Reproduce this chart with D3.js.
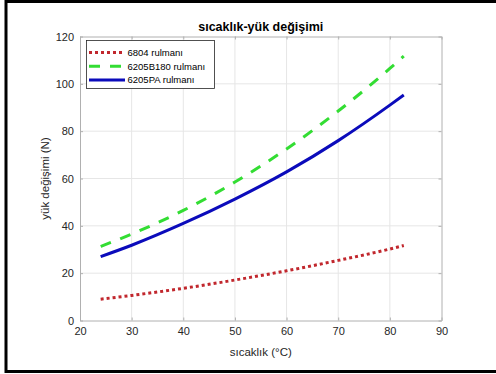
<!DOCTYPE html>
<html>
<head>
<meta charset="utf-8">
<script src="https://cdn.jsdelivr.net/npm/d3@7"></script>
<style>
  html, body { margin: 0; background: #fff; overflow: hidden; }
  svg { display: block; }
  svg text { font-family: "Liberation Sans", Arial, sans-serif; }
</style>
</head>
<body>
<div id="chart"></div>
<script>
// temperature values (°C)
const temps = [24, 30, 40, 50, 60, 70, 80, 82.7];
// load change (N) for each bearing
const load6804 = [9, 10.6, 13.6, 17.1, 21, 25.4, 30.2, 31.7];
const load6205B180 = [31.3, 36.5, 46.5, 58.5, 72.5, 88.5, 106.5, 111.7];
const load6205PA = [27, 31.8, 41, 51.3, 62.8, 76, 91, 95.3];

const xTicks = [20, 30, 40, 50, 60, 70, 80, 90];
const yTicks = [0, 20, 40, 60, 80, 100, 120];

const series = [
  { name: "6804 rulmanı", values: load6804, color: "#c1272d", dash: "3,3" },
  { name: "6205B180 rulmanı", values: load6205B180, color: "#33dd33", dash: "11,10" },
  { name: "6205PA rulmanı", values: load6205PA, color: "#0b0bbb", dash: null }
];

const width = 496, height = 374;
const margin = { top: 36.5, right: 54.5, bottom: 53.5, left: 80 };

const svg = d3.select("#chart")
  .append("svg")
  .attr("width", width)
  .attr("height", height);

// outer black frame
svg.append("rect")
  .attr("x", 6).attr("y", 1.5)
  .attr("width", 500).attr("height", 370)
  .attr("fill", "none")
  .attr("stroke", "#000")
  .attr("stroke-width", 3);

const x = d3.scaleLinear().domain([20, 90]).range([margin.left, width - margin.right]);
const y = d3.scaleLinear().domain([0, 120]).range([height - margin.bottom, margin.top]);

// grid
svg.append("g")
  .selectAll("line")
  .data(xTicks.slice(1, -1))
  .join("line")
  .attr("x1", d => x(d)).attr("x2", d => x(d))
  .attr("y1", y(0)).attr("y2", y(120))
  .attr("stroke", "#e6e6e6");
svg.append("g")
  .selectAll("line")
  .data(yTicks.slice(1, -1))
  .join("line")
  .attr("x1", x(20)).attr("x2", x(90))
  .attr("y1", d => y(d)).attr("y2", d => y(d))
  .attr("stroke", "#e6e6e6");

// axes (ticks inward, matlab-like box)
const axColor = "#b0b0b0";
const styleAxis = g => {
  g.select(".domain").attr("stroke", axColor);
  g.selectAll(".tick line").attr("stroke", axColor);
  g.selectAll(".tick text").attr("fill", "#262626").style("font-size", "11px");
};

svg.append("g")
  .attr("transform", `translate(0,${y(0)})`)
  .call(d3.axisBottom(x).tickValues(xTicks).tickSizeInner(-3).tickSizeOuter(0).tickPadding(7))
  .call(styleAxis);
svg.append("g")
  .attr("transform", `translate(0,${y(120)})`)
  .call(d3.axisTop(x).tickValues(xTicks).tickSizeInner(-3).tickSizeOuter(0).tickFormat(""))
  .call(styleAxis);
svg.append("g")
  .attr("transform", `translate(${x(20)},0)`)
  .call(d3.axisLeft(y).tickValues(yTicks).tickSizeInner(-3).tickSizeOuter(0).tickPadding(6))
  .call(styleAxis);
svg.append("g")
  .attr("transform", `translate(${x(90)},0)`)
  .call(d3.axisRight(y).tickValues(yTicks).tickSizeInner(-3).tickSizeOuter(0).tickFormat(""))
  .call(styleAxis);

// lines
const line = d3.line()
  .x((d, i) => x(temps[i]))
  .y(d => y(d))
  .curve(d3.curveMonotoneX);

svg.append("g")
  .selectAll("path")
  .data(series)
  .join("path")
  .attr("d", d => line(d.values))
  .attr("fill", "none")
  .attr("stroke", d => d.color)
  .attr("stroke-width", 3)
  .attr("stroke-dasharray", d => d.dash);

// title and labels
svg.append("text")
  .attr("x", (x(20) + x(90)) / 2)
  .attr("y", 31)
  .attr("text-anchor", "middle")
  .style("font-size", "12.5px")
  .style("font-weight", "bold")
  .attr("fill", "#000")
  .text("sıcaklık-yük değişimi");

svg.append("text")
  .attr("x", (x(20) + x(90)) / 2)
  .attr("y", 356)
  .attr("text-anchor", "middle")
  .style("font-size", "11.5px")
  .attr("fill", "#262626")
  .text("sıcaklık (°C)");

svg.append("text")
  .attr("transform", `translate(49,${(y(0) + y(120)) / 2}) rotate(-90)`)
  .attr("text-anchor", "middle")
  .style("font-size", "11.5px")
  .attr("fill", "#262626")
  .text("yük değişimi (N)");

// legend
const legend = svg.append("g");
legend.append("rect")
  .attr("x", 86.5).attr("y", 40.5)
  .attr("width", 128).attr("height", 48)
  .attr("fill", "#fff")
  .attr("stroke", "#262626")
  .attr("stroke-width", 0.8);

const items = legend.selectAll("g")
  .data(series)
  .join("g")
  .attr("transform", (d, i) => `translate(0,${52.5 + i * 13.7})`);

items.append("line")
  .attr("x1", 89).attr("x2", 125)
  .attr("stroke", d => d.color)
  .attr("stroke-width", 3)
  .attr("stroke-dasharray", d => d.dash);

items.append("text")
  .attr("x", 127.5)
  .attr("y", 3.5)
  .style("font-size", "9.5px")
  .attr("fill", "#000")
  .text(d => d.name);
</script>
</body>
</html>
